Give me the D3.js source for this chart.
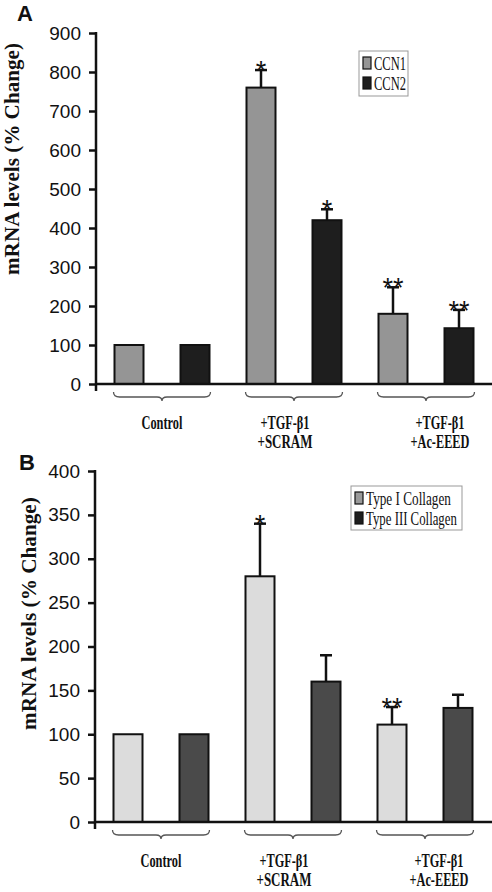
<!DOCTYPE html>
<html><head><meta charset="utf-8">
<script src="https://cdn.jsdelivr.net/npm/d3@7"></script>
<style>body{margin:0;background:#fff}svg{display:block}</style>
</head><body>
<svg id="c" width="492" height="892"></svg>
<script>
// ---- data ----
const groups = ["Control", "SCRAM", "AcEEED"];
const groupLabels = [["Control"], ["+TGF-\u03B21", "+SCRAM"], ["+TGF-\u03B21", "+Ac-EEED"]];

const seriesA = ["CCN1", "CCN2"];
const ccn1 = [100, 760, 180];
const ccn1Err = [0, 45, 68];
const ccn1Sig = ["", "*", "**"];
const ccn2 = [100, 420, 143];
const ccn2Err = [0, 28, 47];
const ccn2Sig = ["", "*", "**"];
const ticksA = [0, 100, 200, 300, 400, 500, 600, 700, 800, 900];

const seriesB = ["Type I Collagen", "Type III Collagen"];
const type1 = [100, 280, 111];
const type1Err = [0, 60, 20];
const type1Sig = ["", "*", "**"];
const type3 = [100, 160, 130];
const type3Err = [0, 30, 15];
const type3Sig = ["", "", ""];
const ticksB = [0, 50, 100, 150, 200, 250, 300, 350, 400];

const yLabel = "mRNA levels (% Change)";

// ---- drawing ----
const svg = d3.select("#c");
const serif = "'Liberation Serif','DejaVu Serif',serif";
const sans = "'Liberation Sans',Arial,sans-serif";

// place a text horizontally squeezed to a given width (anchor: "start" or "middle")
function squeezed(parent, txt, x, y, width, anchor, attrs, rotate) {
  const gg = parent.append("g");
  const t = gg.append("text").attr("x", 0).attr("y", 0).text(txt);
  Object.entries(attrs).forEach(([k, v]) => t.attr(k, v));
  const nat = t.node().getComputedTextLength();
  const s = width / nat;
  t.attr("x", anchor === "middle" ? -nat / 2 : 0);
  gg.attr("transform", `translate(${x},${y})` + (rotate ? ` rotate(${rotate})` : "") + ` scale(${s},1)`);
  return gg;
}

function panel(cfg) {
  const g = svg.append("g");
  const x0 = d3.scaleBand().domain(groups).range([cfg.left, cfg.right]);
  const x1 = d3.scaleBand().domain(cfg.series).range([0, x0.bandwidth()]);
  const y = d3.scaleLinear().domain([0, d3.max(cfg.ticks)]).range([cfg.bottom, cfg.top]);
  const bw = 29;

  // y axis
  const ax = g.append("g").attr("transform", `translate(${cfg.left},0)`)
    .call(d3.axisLeft(y).tickValues(cfg.ticks).tickSize(7).tickPadding(8).tickSizeOuter(0));
  ax.select(".domain").remove();
  ax.selectAll(".tick line").attr("stroke", "#111").attr("stroke-width", 2.5);
  ax.selectAll(".tick text").attr("font-family", sans).attr("font-size", 19).attr("fill", "#111");
  g.append("line").attr("x1", cfg.left).attr("x2", cfg.left).attr("y1", cfg.top - 1).attr("y2", cfg.bottom + 7)
    .attr("stroke", "#111").attr("stroke-width", 2.5);

  // bars
  const data = [];
  cfg.series.forEach((s, si) => {
    groups.forEach((gr, gi) => {
      data.push({ s, si, gr, gi, v: cfg.vals[si][gi], e: cfg.errs[si][gi], sig: cfg.sigs[si][gi] });
    });
  });
  const cx = d => x0(d.gr) + x1(d.s) + x1.bandwidth() / 2;

  // error bars
  data.filter(d => d.e > 0).forEach(d => {
    g.append("line").attr("x1", cx(d)).attr("x2", cx(d)).attr("y1", y(d.v)).attr("y2", y(d.v + d.e))
      .attr("stroke", "#111").attr("stroke-width", 2.5);
    g.append("line").attr("x1", cx(d) - 6).attr("x2", cx(d) + 6).attr("y1", y(d.v + d.e)).attr("y2", y(d.v + d.e))
      .attr("stroke", "#111").attr("stroke-width", 2.5);
  });

  g.selectAll("rect.bar").data(data).join("rect").attr("class", "bar")
    .attr("x", d => cx(d) - bw / 2).attr("width", bw)
    .attr("y", d => y(d.v)).attr("height", d => y(0) - y(d.v))
    .attr("fill", d => cfg.colors[d.si]).attr("stroke", "#111").attr("stroke-width", 2);

  // significance
  g.selectAll("text.sig").data(data.filter(d => d.sig)).join("text").attr("class", "sig")
    .attr("x", cx).attr("y", d => y(d.v + d.e) + 10)
    .attr("text-anchor", "middle").attr("font-family", sans).attr("font-size", 27).attr("fill", "#111")
    .text(d => d.sig);

  // x axis
  g.append("line").attr("x1", cfg.left).attr("x2", 492).attr("y1", y(0)).attr("y2", y(0))
    .attr("stroke", "#111").attr("stroke-width", 2.5);

  // braces + labels
  const labelDx = [0, -9, 14];
  const labelW = { "Control": 41, "+TGF-\u03B21": 49, "+SCRAM": 55, "+Ac-EEED": 59 };
  groups.forEach((gr, gi) => {
    const xa = x0(gr) + x1(cfg.series[0]) + x1.bandwidth() / 2 - bw / 2 - 1;
    const xb = x0(gr) + x1(cfg.series[1]) + x1.bandwidth() / 2 + bw / 2 + 1;
    const xm = (xa + xb) / 2;
    const yb = y(0) + 8;
    const p = `M${xa},${yb} Q${xa},${yb + 5} ${xa + 6},${yb + 5} L${xm - 5},${yb + 5} Q${xm},${yb + 5} ${xm},${yb + 9} Q${xm},${yb + 5} ${xm + 5},${yb + 5} L${xb - 6},${yb + 5} Q${xb},${yb + 5} ${xb},${yb}`;
    g.append("path").attr("d", p).attr("fill", "none").attr("stroke", "#555").attr("stroke-width", 1.3);
    groupLabels[gi].forEach((t, li) => {
      squeezed(g, t, x0(gr) + x0.bandwidth() / 2 + labelDx[gi], y(0) + 45 + li * 19, labelW[t], "middle",
        { "font-family": serif, "font-weight": "bold", "font-size": 19, "fill": "#111" });
    });
  });

  // y label
  squeezed(g, yLabel, cfg.ylabX, (cfg.ylabTop + cfg.ylabBot) / 2, cfg.ylabBot - cfg.ylabTop, "middle",
    { "font-family": serif, "font-weight": "bold", "font-size": 20, "fill": "#111" }, -90);

  // panel letter
  g.append("text").attr("x", cfg.letterX).attr("y", cfg.letterY).attr("font-family", sans).attr("font-weight", "bold")
    .attr("font-size", 22).attr("fill", "#111").text(cfg.letter);

  // legend
  const L = cfg.legend;
  g.append("rect").attr("x", L.x).attr("y", L.y).attr("width", L.w).attr("height", L.h)
    .attr("fill", "#fff").attr("stroke", "#999").attr("stroke-width", 1);
  cfg.series.forEach((s, i) => {
    g.append("rect").attr("x", L.x + 4).attr("y", L.y + 6 + i * 20).attr("width", 8).attr("height", 12)
      .attr("fill", L.sw[i]).attr("stroke", "#111").attr("stroke-width", 1.2);
    squeezed(g, s, L.x + 15, L.y + 19 + i * 20, L.tw[i], "start",
      { "font-family": serif, "font-size": 19, "fill": "#111" });
  });
}

panel({
  series: seriesA, vals: [ccn1, ccn2], errs: [ccn1Err, ccn2Err], sigs: [ccn1Sig, ccn2Sig],
  ticks: ticksA, colors: ["#959595", "#1e1e1e"],
  left: 96, right: 492, top: 33, bottom: 384,
  ylabX: 19, ylabTop: 43, ylabBot: 275, letter: "A", letterX: 17, letterY: 21,
  legend: { x: 359, y: 51, w: 49, h: 45, sw: ["#959595", "#1e1e1e"], tw: [32, 32] }
});
panel({
  series: seriesB, vals: [type1, type3], errs: [type1Err, type3Err], sigs: [type1Sig, type3Sig],
  ticks: ticksB, colors: ["#dcdcdc", "#4a4a4a"],
  left: 95, right: 491, top: 471, bottom: 822,
  ylabX: 36, ylabTop: 497, ylabBot: 730, letter: "B", letterX: 19, letterY: 470,
  legend: { x: 351, y: 486, w: 111, h: 44, sw: ["#9a9a9a", "#1e1e1e"], tw: [85, 91] }
});
</script>
</body></html>
